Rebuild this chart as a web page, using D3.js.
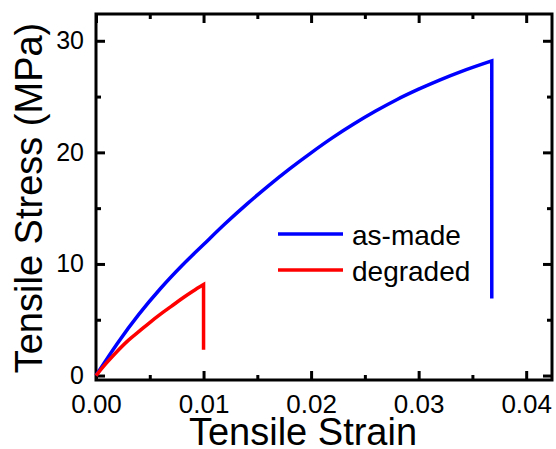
<!DOCTYPE html>
<html>
<head>
<meta charset="utf-8">
<script src="https://cdn.jsdelivr.net/npm/d3@7"></script>
<style>
  body { margin: 0; background: #fff; }
  text { font-family: "Liberation Sans", Arial, sans-serif; fill: #000; }
</style>
</head>
<body>
<div id="chart"></div>
<script>
// Data
const asMadeStrain = [0, 0.002, 0.004, 0.006, 0.008, 0.010, 0.012, 0.014, 0.016, 0.018, 0.020, 0.022, 0.024, 0.026, 0.028, 0.030, 0.032, 0.034, 0.0368, 0.0368];
const asMadeStress = [0, 2.9, 5.5, 7.8, 9.86, 11.74, 13.6, 15.34, 16.98, 18.52, 19.96, 21.32, 22.56, 23.7, 24.74, 25.66, 26.5, 27.26, 28.2, 6.9];
const degradedStrain = [0, 0.001, 0.002, 0.003, 0.004, 0.005, 0.006, 0.007, 0.008, 0.009, 0.0100, 0.0100];
const degradedStress = [0, 1.15, 2.2, 3.15, 3.95, 4.75, 5.5, 6.2, 6.9, 7.55, 8.15, 2.3];
const seriesNames = ["as-made", "degraded"];
const seriesColors = ["#0000ff", "#ff0000"];
const xTicks = [0, 0.01, 0.02, 0.03, 0.04];
const xMinor = [0.005, 0.015, 0.025, 0.035];
const yTicks = [0, 10, 20, 30];
const yMinor = [5, 15, 25];

// Chart dimensions
let dims = {
  width: 556,
  height: 449,
  margin: { top: 14, left: 96, right: 4, bottom: 69 }
};
const plotW = dims.width - dims.margin.left - dims.margin.right;
const plotH = dims.height - dims.margin.top - dims.margin.bottom;

const svg = d3.select('#chart')
  .append('svg')
  .attr('width', dims.width)
  .attr('height', dims.height);

const g = svg.append('g')
  .attr('transform', `translate(${dims.margin.left}, ${dims.margin.top})`);

const x = d3.scaleLinear().domain([0, 0.0424]).range([0, plotW]);
const y = d3.scaleLinear().domain([-0.4, 32.4]).range([plotH, 0]);

// axes, ticks pointing inwards on all four sides
function styleAxis(sel, fontSize) {
  sel.select('.domain').remove();
  sel.selectAll('line').attr('stroke', '#000').attr('stroke-width', 3);
  sel.selectAll('text').style('font-size', fontSize + 'px').attr('fill', '#000');
}

g.append('g')
  .attr('transform', `translate(0, ${plotH})`)
  .call(d3.axisBottom(x).tickValues(xTicks).tickFormat(d3.format('.2f')).tickSize(-9).tickSizeOuter(0).tickPadding(15))
  .call(s => styleAxis(s, 26));
g.append('g')
  .attr('transform', `translate(0, ${plotH})`)
  .call(d3.axisBottom(x).tickValues(xMinor).tickFormat('').tickSize(-5).tickSizeOuter(0))
  .call(s => styleAxis(s, 26));
g.append('g')
  .call(d3.axisTop(x).tickValues(xTicks).tickFormat('').tickSize(-9).tickSizeOuter(0))
  .call(s => styleAxis(s, 26));
g.append('g')
  .call(d3.axisTop(x).tickValues(xMinor).tickFormat('').tickSize(-5).tickSizeOuter(0))
  .call(s => styleAxis(s, 26));

g.append('g')
  .call(d3.axisLeft(y).tickValues(yTicks).tickSize(-9).tickSizeOuter(0).tickPadding(12))
  .call(s => styleAxis(s, 25));
g.append('g')
  .call(d3.axisLeft(y).tickValues(yMinor).tickFormat('').tickSize(-5).tickSizeOuter(0))
  .call(s => styleAxis(s, 25));
g.append('g')
  .attr('transform', `translate(${plotW}, 0)`)
  .call(d3.axisRight(y).tickValues(yTicks).tickFormat('').tickSize(-9).tickSizeOuter(0))
  .call(s => styleAxis(s, 25));
g.append('g')
  .attr('transform', `translate(${plotW}, 0)`)
  .call(d3.axisRight(y).tickValues(yMinor).tickFormat('').tickSize(-5).tickSizeOuter(0))
  .call(s => styleAxis(s, 25));

// frame
g.append('rect')
  .attr('width', plotW)
  .attr('height', plotH)
  .attr('fill', 'none')
  .attr('stroke', '#000')
  .attr('stroke-width', 3);

// curves
const series = [
  asMadeStrain.map((e, i) => ({ x: e, y: asMadeStress[i] })),
  degradedStrain.map((e, i) => ({ x: e, y: degradedStress[i] }))
];
const smooth = d3.line()
  .x(d => x(d.x))
  .y(d => y(d.y))
  .curve(d3.curveMonotoneX);
const straight = d3.line()
  .x(d => x(d.x))
  .y(d => y(d.y));

series.forEach(function(pts, i) {
  // smooth rising part, then the straight drop at fracture
  const rise = pts.slice(0, pts.length - 1);
  const drop = pts.slice(pts.length - 2);
  g.append('path')
    .attr('d', smooth(rise) + straight(drop).replace('M', 'L'))
    .attr('fill', 'none')
    .attr('stroke', seriesColors[i])
    .attr('stroke-width', 3.5)
    .attr('stroke-linejoin', 'miter');
});

// legend
const legend = g.append('g')
  .attr('transform', `translate(${278 - dims.margin.left}, ${234 - dims.margin.top})`);
seriesNames.forEach(function(name, i) {
  legend.append('line')
    .attr('x1', 0).attr('x2', 65)
    .attr('y1', i * 36).attr('y2', i * 36)
    .attr('stroke', seriesColors[i])
    .attr('stroke-width', 3.5);
  legend.append('text')
    .attr('x', 74)
    .attr('y', i * 36 + 10.5)
    .style('font-size', '28px')
    .text(name);
});

// axis titles
svg.append('text')
  .attr('x', 303)
  .attr('y', 445)
  .attr('text-anchor', 'middle')
  .style('font-size', '38px')
  .text('Tensile Strain');

svg.append('text')
  .attr('transform', 'translate(42, 198) rotate(-90)')
  .attr('text-anchor', 'middle')
  .style('font-size', '38px')
  .text('Tensile Stress (MPa)');
</script>
</body>
</html>
